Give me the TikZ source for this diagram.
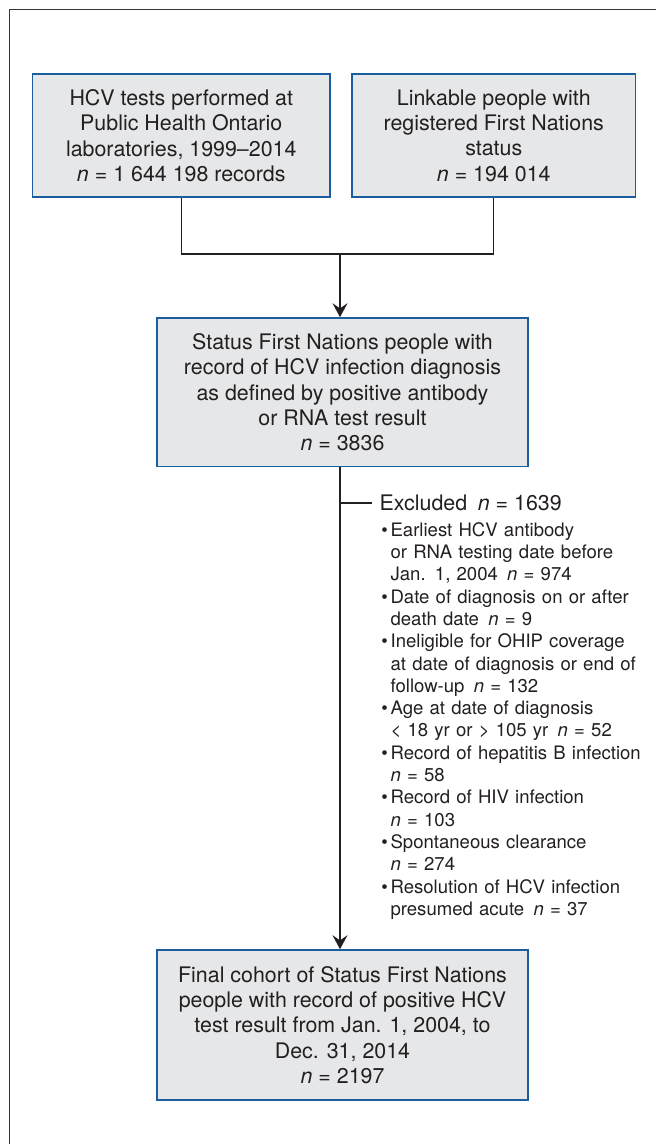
\documentclass[tikz,border=0pt]{standalone}
\usepackage{fontspec}
\setmainfont{TeX Gyre Heros}
\usepackage{xcolor}
\usetikzlibrary{arrows.meta,calc}

\definecolor{boxblue}{HTML}{1B5E9F}
\definecolor{boxgray}{HTML}{E6E7E8}
\definecolor{ink}{HTML}{231F20}
\newcommand{\nn}{\textit{n}}
\newcommand{\exitem}[1]{\hangindent=4.6pt\hangafter=1\noindent\makebox[4.6pt][l]{\textbullet}#1\par}

\begin{document}
\begin{tikzpicture}[x=0.5pt, y=-0.5pt,
    every node/.style={text=ink},
    box/.style={draw=boxblue, line width=0.8pt, fill=boxgray, align=center, inner sep=0pt,
        font=\fontsize{10.7}{12.7}\selectfont},
    conn/.style={draw=ink, line width=0.7pt},
    arr/.style={conn, -{Stealth[length=7pt, width=7.5pt, inset=2.6pt]}}]
    \useasboundingbox (0,0) rectangle (656,1144);

    % Frame
    \draw[ink!90, line width=0.5pt] (9.3,1150) -- (9.3,10) -- (660,10);

    % Sources
    \node[box, minimum width=148.75pt, minimum height=61.5pt] (hcv) at (181.25,135.5)
        {HCV tests performed at\\Public Health Ontario\\laboratories, 1999--2014\\\nn{} = 1~644~198 records};
    \node[box, minimum width=141.75pt, minimum height=61.5pt] (fnstatus) at (493.75,135.5)
        {Linkable people with\\registered First Nations\\status\\\nn{} = 194~014};

    % Linked cohort
    \node[box, minimum width=185.5pt, minimum height=74.25pt] (diag) at (342.5,392.25)
        {Status First Nations people with\\record of HCV infection diagnosis\\as defined by positive antibody\\or RNA test result\\\nn{} = 3836};

    % Final cohort
    \node[box, minimum width=185.5pt, minimum height=75pt] (cohort) at (342.5,1025)
        {Final cohort of Status First Nations\\people with record of positive HCV\\test result from Jan. 1, 2004, to\\Dec. 31, 2014\\\nn{} = 2197};

    % Exclusions
    \node[anchor=base west, inner sep=0pt, font=\fontsize{10.7}{12.7}\selectfont] (excl) at (379.3,510.7)
        {Excluded\enspace\nn{} = 1639};
    \node[anchor=north west, inner sep=0pt, text width=136pt, font=\fontsize{9.28}{11.15}\selectfont] (exlist) at (381,522)
        {\raggedright%
        \exitem{Earliest HCV antibody\newline or RNA testing date before\newline Jan. 1, 2004\enspace\nn{} = 974}%
        \exitem{Date of diagnosis on or after\newline death date\enspace\nn{} = 9}%
        \exitem{Ineligible for OHIP coverage\newline at date of diagnosis or end of\newline follow-up\enspace\nn{} = 132}%
        \exitem{Age at date of diagnosis\newline < 18 yr or > 105 yr\enspace\nn{} = 52}%
        \exitem{Record of hepatitis B infection\newline \nn{} = 58}%
        \exitem{Record of HIV infection\newline \nn{} = 103}%
        \exitem{Spontaneous clearance\newline \nn{} = 274}%
        \exitem{Resolution of HCV infection\newline presumed acute\enspace\nn{} = 37}};

    % Connectors
    \coordinate (join) at (340,254);
    \draw[conn] (hcv.south) |- (join) -| (fnstatus.south);
    \draw[arr] (join) -- (join |- diag.north);
    \draw[arr] (diag.south -| join) -- (cohort.north -| join);
    \draw[conn] (excl.west -| join) -- ([xshift=-3.8pt]excl.west);
\end{tikzpicture}
\end{document}
